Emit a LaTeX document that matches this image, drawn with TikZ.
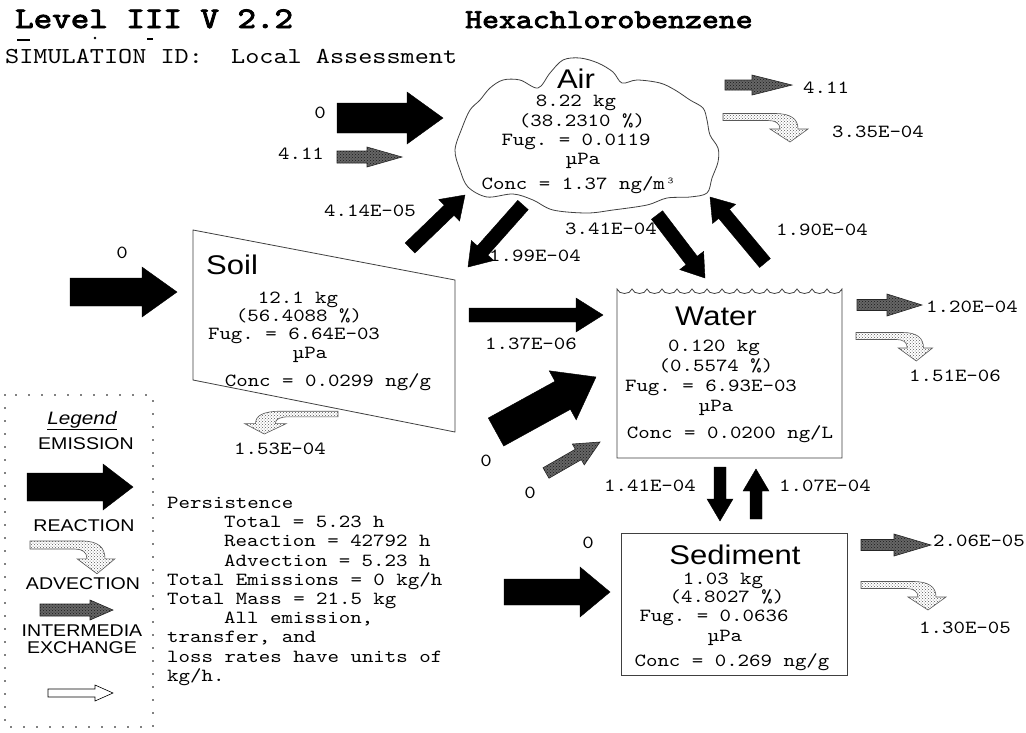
\documentclass[tikz,border=0pt]{standalone}
\usepackage{fontspec}
\newfontfamily\monofam[FakeStretch=1.18]{lmmono10-regular.otf}
\newfontfamily\titlefam[FakeStretch=1.18, FakeBold=3]{lmmono10-regular.otf}
\newfontfamily\sansfam[FakeStretch=1.15]{Liberation Sans}
\usetikzlibrary{calc,patterns}
\frenchspacing

\newcommand{\valfont}{\monofam\fontsize{18.5}{19.2}\selectfont}
% block arrow from #2 to #3: body half width, head half width, head length
\newcommand{\blockarrow}[6][]{%
  \coordinate (neck) at ($(#3)!#6pt!(#2)$);
  \path[#1] ($(#2)!#4pt!90:(#3)$) -- ($(neck)!#4pt!90:(#3)$) -- ($(neck)!#5pt!90:(#3)$) -- (#3)
    -- ($(neck)!#5pt!-90:(#3)$) -- ($(neck)!#4pt!-90:(#3)$) -- ($(#2)!#4pt!-90:(#3)$) -- cycle;}

\tikzset{
  emis/.style={draw=black, fill=black},
  xchg/.style={draw=black, fill=black},
  advec/.style={draw=black!85, line width=0.6pt, preaction={fill=black!60}, pattern=crosshatch dots, pattern color=black!90},
  react/.style={draw=black!65, line width=0.6pt, preaction={fill=black!35}, pattern=crosshatch dots, pattern color=black!65},
  hollow/.style={draw=black, line width=0.6pt, fill=white},
  val/.style={font=\valfont, inner sep=0pt, anchor=base},
  comp/.style={font=\sansfam\fontsize{27}{27}\selectfont, inner sep=0pt, anchor=base},
  legtxt/.style={font=\sansfam\fontsize{17}{17}\selectfont, inner sep=0pt, anchor=base},
  box/.style={draw=black!75, line width=0.8pt},
  pics/reactarrow/.style={code={
    \path[pic actions] (0,-3.5) -- (52,-3.5) .. controls (68,-3.5) and (75,2) .. (75,12)
      -- (85,12) -- (67,25) -- (47,12) -- (57,12) .. controls (57,6) and (52,3.5) .. (45,3.5)
      -- (0,3.5) -- cycle;
  }}
}

\begin{document}
\begin{tikzpicture}[x=1pt, y=-1pt]
\useasboundingbox[fill=white] (0,0) rectangle (1026,732);

% header
\node[val, anchor=base west, font=\titlefam\fontsize{29.9}{30}\selectfont] (title) at (15,28) {Level III V 2.2};
\node[val, anchor=base west, font=\titlefam\fontsize{27.3}{28}\selectfont] (chem) at (465,28) {Hexachlorobenzene};
\node[val, anchor=base west, font=\monofam\fontsize{22.8}{23}\selectfont] (simid) at (5,63) {SIMULATION ID:~~Local Assessment};
\draw[line width=2pt] (17,40) -- (30,40);
\fill (95,38) circle (1.3);
\draw[line width=2pt] (147,39) -- (153,39);

% compartments
\draw[box] plot[smooth cycle, tension=0.55] coordinates {(455,150) (462,128) (470,110) (480,100) (490,88)
  (503,80) (520,80) (538,88) (550,73) (563,60) (580,58) (598,63) (613,72) (622,83) (637,80) (660,83)
  (675,90) (690,100) (703,108) (707,120) (710,135) (718,148) (718,162) (712,178) (707,193) (690,197)
  (667,198) (647,205) (613,210) (587,213) (553,210) (533,200) (513,194) (487,197) (468,187) (460,170)};
\draw[box] (193,230) -- (455,280) -- (455,432) -- (193,380) -- cycle;
\draw[box] (617,289) foreach \i in {0,...,14} { .. controls +(2,6) and +(-2,6) .. ++(15,0) }
  -- (842,458) -- (617,458) -- cycle;
\draw[box] (621,533) rectangle (847,675);

\node[comp] (air) at (576,88) {Air};
\node[val] (air-m) at (576,106) {8.22 kg};
\node[val] (air-p) at (582,126) {(38.2310 \%)};
\node[val] (air-f) at (576,145) {Fug. = 0.0119};
\node[val] (air-u) at (583,164) {µPa};
\node[val] (air-c) at (579,189) {Conc = 1.37 ng/m³};

\node[comp, anchor=base west] (soil) at (206,274) {Soil};
\node[val] (soil-m) at (298,303) {12.1 kg};
\node[val] (soil-p) at (299,321) {(56.4088 \%)};
\node[val] (soil-f) at (294,339) {Fug. = 6.64E-03};
\node[val] (soil-u) at (310,358) {µPa};
\node[val] (soil-c) at (328,386) {Conc = 0.0299 ng/g};

\node[comp] (water) at (716,325) {Water};
\node[val] (water-m) at (714,351) {0.120 kg};
\node[val] (water-p) at (716,371) {(0.5574 \%)};
\node[val] (water-f) at (711,391) {Fug. = 6.93E-03};
\node[val] (water-u) at (716,411) {µPa};
\node[val] (water-c) at (730,438) {Conc = 0.0200 ng/L};

\node[comp] (sed) at (735,564) {Sediment};
\node[val] (sed-m) at (723,584) {1.03 kg};
\node[val] (sed-p) at (727,602) {(4.8027 \%)};
\node[val] (sed-f) at (714,621) {Fug. = 0.0636};
\node[val] (sed-u) at (725,641) {µPa};
\node[val] (sed-c) at (732,666) {Conc = 0.269 ng/g};

% arrow ends
\foreach \n/\x/\y in {aem-s/337/118, aem-t/443/118, aadv-s/337/157, aadv-t/402/157,
  aout-s/725/85, aout-t/792/85, sem-s/70/292, sem-t/177/292,
  s2a-s/410/248, s2a-t/465/195, a2s-s/523/205, a2s-t/468/267,
  a2w-s/657/215, a2w-t/705/278, w2a-s/765/263, w2a-t/710/197,
  s2w-s/469/315, s2w-t/603/315, wem-s/496/432, wem-t/596/377,
  wadv-s/546/473, wadv-t/600/442, wout-s/857/305, wout-t/922/305,
  w2d-s/720/467, w2d-t/720/521, d2w-s/756/519, d2w-t/756/469,
  dem-s/504/592, dem-t/610/592, dout-s/861/545, dout-t/931/545,
  lem-s/27/487, lem-t/133/487, ladv-s/40/610, ladv-t/113/610,
  lxch-s/48/693, lxch-t/113/693}
  \coordinate (\n) at (\x,\y);

% air flows
\blockarrow[emis]{aem-s}{aem-t}{15}{26}{36}
\blockarrow[advec]{aadv-s}{aadv-t}{6}{10}{35}
\blockarrow[advec]{aout-s}{aout-t}{5}{10}{40}
\pic[react] at (723,117) {reactarrow};
\node[val] (f-aem) at (320,118) {0};
\node[val] (f-aadv) at (301,159) {4.11};
\node[val, anchor=base west] (f-aout) at (803,93) {4.11};
\node[val, anchor=base west] (f-arx) at (832,137) {3.35E-04};

% soil flows
\blockarrow[emis]{sem-s}{sem-t}{14}{25}{35}
\pic[react, xscale=-1.1, yscale=0.8] at (338,414) {reactarrow};
\node[val] (f-sem) at (122,258) {0};
\node[val] (f-srx) at (280,454) {1.53E-04};

% intermedia exchange
\blockarrow[xchg]{s2a-s}{s2a-t}{7}{15}{22}
\blockarrow[xchg]{a2s-s}{a2s-t}{7}{15}{22}
\blockarrow[xchg]{a2w-s}{a2w-t}{7}{15}{22}
\blockarrow[xchg]{w2a-s}{w2a-t}{7}{15}{22}
\blockarrow[xchg]{s2w-s}{s2w-t}{7}{17}{27}
\blockarrow[xchg]{w2d-s}{w2d-t}{6}{13}{22}
\blockarrow[xchg]{d2w-s}{d2w-t}{6}{13}{22}
\node[val] (f-s2a) at (370,216) {4.14E-05};
\node[val] (f-a2s) at (535,261) {1.99E-04};
\node[val] (f-a2w) at (611,234) {3.41E-04};
\node[val] (f-w2a) at (822,235) {1.90E-04};
\node[val] (f-s2w) at (531,349) {1.37E-06};
\node[val] (f-w2d) at (650,491) {1.41E-04};
\node[val] (f-d2w) at (825,491) {1.07E-04};

% water flows
\blockarrow[emis]{wem-s}{wem-t}{16}{28}{38}
\blockarrow[advec]{wadv-s}{wadv-t}{6}{12}{25}
\blockarrow[advec]{wout-s}{wout-t}{5.5}{11}{35}
\pic[react, xscale=0.9] at (856,336) {reactarrow};
\node[val] (f-wem) at (486,466) {0};
\node[val] (f-wadv) at (530,498) {0};
\node[val, anchor=base west] (f-wout) at (926,312) {1.20E-04};
\node[val] (f-wrx) at (955,381) {1.51E-06};

% sediment flows
\blockarrow[emis]{dem-s}{dem-t}{13}{25}{30}
\blockarrow[advec]{dout-s}{dout-t}{5.5}{11}{37}
\pic[react] at (861,585) {reactarrow};
\node[val] (f-dem) at (588,548) {0};
\node[val, anchor=base west] (f-dout) at (933,546) {2.06E-05};
\node[val] (f-drx) at (965,633) {1.30E-05};

% summary
\node[val, anchor=north west, align=left] (pers) at (167,497) {Persistence\\
\hspace*{57pt}Total = 5.23 h\\
\hspace*{57pt}Reaction = 42792 h\\
\hspace*{57pt}Advection = 5.23 h\\
Total Emissions = 0 kg/h\\
Total Mass = 21.5 kg\\
\hspace*{57pt}All emission,\\
transfer, and\\
loss rates have units of\\
kg/h.};

% legend
\draw[line width=1.8pt, dash pattern=on 0pt off 13pt, line cap=round] (5,395) rectangle (153,727);
\node[legtxt, font=\sansfam\itshape\fontsize{18}{18}\selectfont] (leg) at (82,424) {\underline{Legend}};
\node[legtxt] (leg-em) at (86,449) {EMISSION};
\node[legtxt] (leg-rx) at (84,531) {REACTION};
\node[legtxt] (leg-adv) at (83,589) {ADVECTION};
\node[legtxt] (leg-x1) at (82,636) {INTERMEDIA};
\node[legtxt] (leg-x2) at (82,653) {EXCHANGE};
\blockarrow[emis]{lem-s}{lem-t}{14}{23}{30}
\pic[react, yscale=1.15] at (30,545) {reactarrow};
\blockarrow[advec]{ladv-s}{ladv-t}{6}{10}{23}
\blockarrow[hollow]{lxch-s}{lxch-t}{4}{8}{18}
\end{tikzpicture}
\end{document}
